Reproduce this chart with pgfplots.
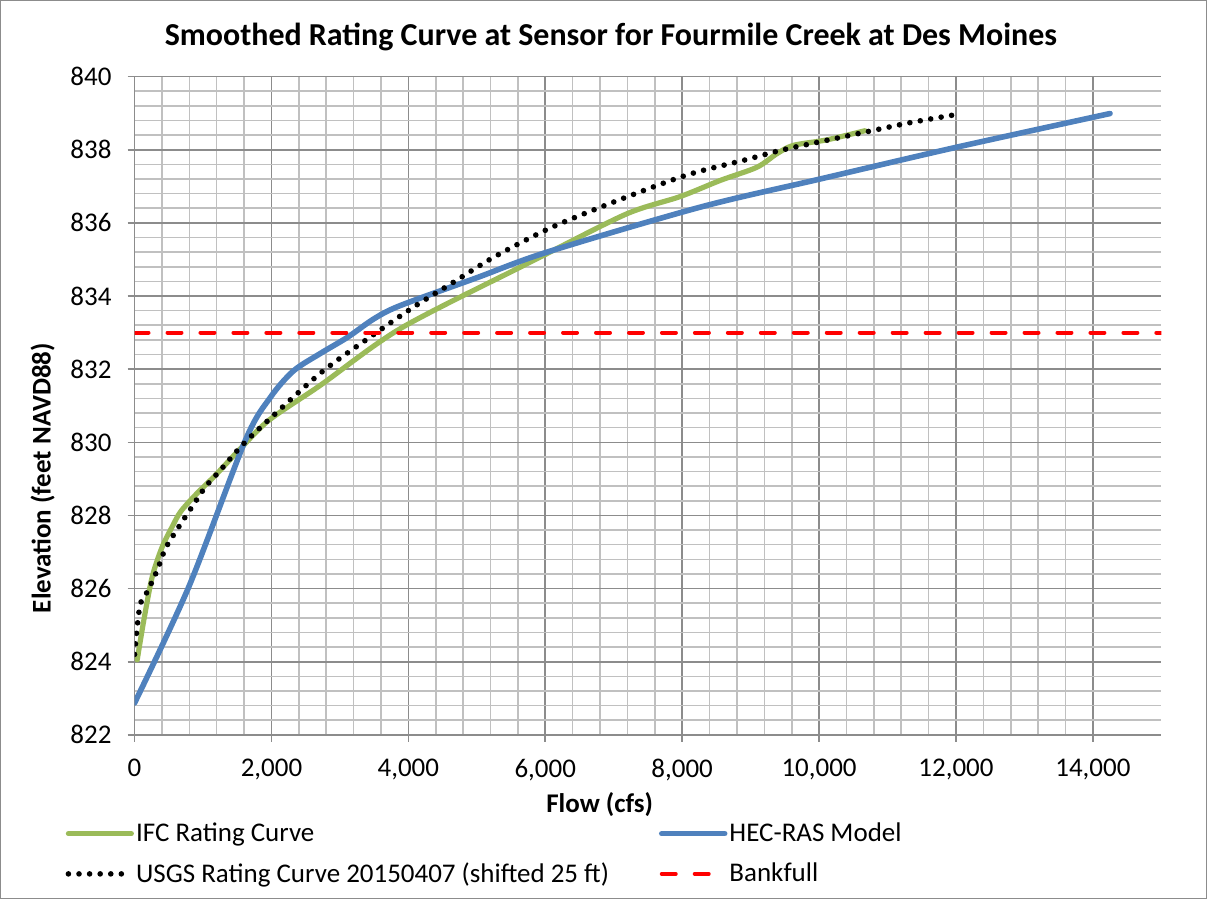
\documentclass[border=0pt]{standalone}
\usepackage{pgfplots}
\pgfplotsset{compat=1.18}
\usepackage{fontspec}
\setmainfont{Carlito}

\definecolor{ifcgreen}{HTML}{9BBB59}
\definecolor{rasblue}{HTML}{4F81BD}
\definecolor{majgrid}{HTML}{8C8C8C}
\definecolor{mingrid}{HTML}{C0C0C0}
\definecolor{framegray}{HTML}{8C8C8C}

\begin{document}
\begin{tikzpicture}
% chart area border (1px = 0.5pt)
\draw[framegray, line width=0.7pt] (-67pt,-82pt) rectangle (536.5pt,367.5pt);
\begin{axis}[
  at={(0pt,0pt)}, anchor=south west,
  scale only axis,
  width=514pt, height=329.5pt,
  xmin=0, xmax=15000,
  ymin=822, ymax=840,
  xtick={0,2000,...,14000},
  ytick={822,824,...,840},
  scaled x ticks=false,
  minor tick num=4,
  grid=both,
  major grid style={majgrid, line width=0.8pt},
  minor grid style={mingrid, line width=0.8pt},
  axis x line=bottom, axis y line=left,
  axis line style={-, majgrid, line width=0.8pt},
  tick align=outside,
  major tick length=3.5pt, minor tick length=0pt,
  tick style={majgrid, line width=0.8pt},
  /pgf/number format/assume math mode=true,
  /pgf/number format/1000 sep={,},
  ticklabel style={font=\fontsize{13.5}{16}\selectfont},
  xticklabel style={yshift=-5pt},
  yticklabel style={xshift=-4.5pt},
  title={Smoothed Rating Curve at Sensor for Fourmile Creek at Des Moines},
  title style={font=\bfseries\fontsize{16}{19}\selectfont, at={(axis description cs:0.464,1.0288)}, anchor=base},
  xlabel={Flow (cfs)},
  xlabel style={font=\bfseries\fontsize{13.5}{16}\selectfont, at={(axis description cs:0.453,-0.118)}, anchor=base},
  ylabel={Elevation (feet NAVD88)},
  ylabel style={font=\bfseries\fontsize{13.5}{16}\selectfont, at={(axis description cs:-0.0895,0.39)}, anchor=center},
  legend columns=2,
  legend cell align=left,
  legend style={draw=none, fill=none, font=\fontsize{13.5}{16}\selectfont,
    at={(axis description cs:-0.0675,-0.13)}, anchor=north west,
    nodes={inner sep=1pt},
    /tikz/every even column/.append style={column sep=24pt},
    row sep=7pt, inner sep=0pt},
  legend image code/.code={\draw[#1] (0pt,0pt) -- (31.5pt,0pt);},
  every axis plot/.append style={line cap=round, line join=round},
]

% IFC rating curve
\addplot[ifcgreen, line width=2.6pt, smooth, tension=0.5] coordinates {
(39,824.05) (136,825.14) (258,826.32) (404,827.14) (550,827.69) (672,828.1)
(890,828.56) (1182,829.1) (1523,829.78) (1961,830.6) (2715,831.56)
(3883,833.11) (5635,834.79) (6025,835.16) (7193,836.25) (7971,836.72)
(8555,837.16) (9090,837.52) (9382,837.89) (9625,838.12) (10112,838.27)
(10670,838.52)
};
\addlegendentry{IFC Rating Curve}

% HEC-RAS model
\addplot[rasblue, line width=2.8pt, smooth, tension=0.5] coordinates {
(0,822.87) (793,826.05) (1620,830.06) (1985,831.23) (2320,831.95)
(2715,832.43) (3110,832.87) (3500,833.38) (3883,833.74) (5000,834.5)
(6025,835.2) (8263,836.43) (10015,837.2) (12010,838.07) (14250,838.99)
};
\addlegendentry{HEC-RAS Model}

% USGS rating curve
\addplot[black, line width=2.8pt, dash pattern=on 0pt off 5.3pt, smooth, tension=0.5] coordinates {
(0,824.2) (39,824.96) (88,825.6) (185,825.91) (331,826.5) (453,827.1)
(647,827.69) (842,828.24) (1036,828.78) (1255,829.24) (1547,829.87)
(1888,830.49) (2715,831.89) (3397,832.82) (4078,833.7) (4662,834.38)
(5246,835.06) (6049,835.84) (6876,836.48) (7703,837.07) (8214,837.39)
(8895,837.71) (9431,837.98) (9942,838.19) (10720,838.5) (11328,838.74)
(11961,838.95)
};
\addlegendentry{USGS Rating Curve 20150407 (shifted 25 ft)}

% Bankfull
\addplot[red, line width=2pt, dash pattern=on 7pt off 9.5pt] coordinates {
(0,833) (15000,833)
};
\addlegendentry{Bankfull}

\end{axis}
\end{tikzpicture}
\end{document}
